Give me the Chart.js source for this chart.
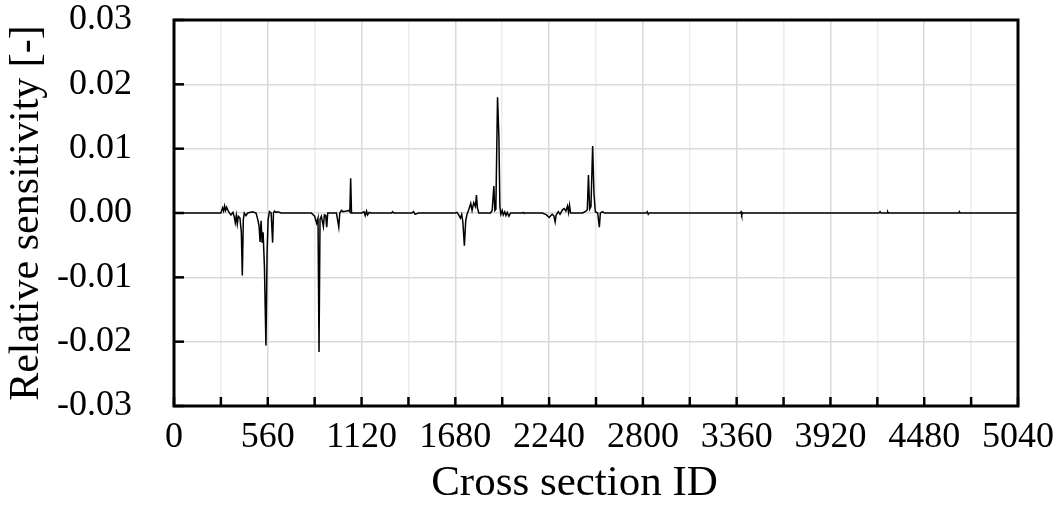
<!DOCTYPE html>
<html lang="en">
<head>
  <meta charset="UTF-8">
  <title>Relative sensitivity</title>
  <script src="https://cdn.jsdelivr.net/npm/chart.js"></script>
  <style>
    body {
      margin: 0;
      background: #fff;
    }
    .wrap {
      width: 1058px;
      height: 510px;
    }
  </style>
</head>
<body>
  <div class="wrap"><canvas id="chart"></canvas></div>

  <script>
    // cross section IDs and relative sensitivity
    const sectionIds = [
      0, 280, 290, 296, 302, 308, 314, 326, 340, 352, 360, 366, 372, 378, 384, 394, 402, 408, 414, 420,
      430, 440, 470, 490, 500, 508, 514, 520, 526, 532, 540, 549, 556, 562, 570, 580, 589, 594, 600, 610,
      620, 640, 820, 840, 852, 860, 866, 872, 880, 892, 898, 906, 912, 918, 970, 984, 990, 1000, 1010, 1030,
      1045, 1050, 1055, 1060, 1120, 1135, 1142, 1150, 1156, 1165, 1175, 1300, 1305, 1312, 1420, 1430, 1440, 1450, 1460,
      1680, 1690, 1700, 1710, 1718, 1725, 1734, 1742, 1750, 1760, 1772, 1780, 1790, 1800, 1806, 1812, 1820,
      1890, 1900, 1910, 1916, 1922, 1932, 1940, 1946, 1952, 1960, 1966, 1975, 1982, 1990, 2000, 2010,
      2080, 2085, 2090, 2200, 2225, 2240, 2258, 2268, 2276, 2282, 2295, 2305, 2320, 2330, 2340, 2350, 2356, 2362, 2368,
      2440, 2460, 2468, 2475, 2482, 2490, 2500, 2508, 2516, 2530, 2540, 2546, 2560, 2570,
      2820, 2826, 2832, 2838, 3380, 3386, 3390, 3396, 4210, 4216, 4222, 4258, 4262, 4266, 4686, 4690, 4694, 5040
    ];
    const sensitivity = [
      0, 0, 0.0008, 0.0003, 0.0011, 0.0004, 0.0009, 0.0002, -0.0003, 0.0001, -0.0006, -0.0015, -0.0004, -0.0017, -0.0005, -0.0008, -0.0030, -0.0097, -0.0010, 0,
      -0.0004, 0, 0.0002, 0, -0.0010, -0.0020, -0.0045, -0.0012, -0.0046, -0.0030, -0.0083, -0.0206, -0.0060, -0.0010, 0.0002, 0, -0.0046, 0, 0.0003, 0.0001,
      0.0002, 0, 0, -0.0005, -0.0016, -0.0008, -0.0216, -0.0010, -0.0005, -0.0021, -0.0003, -0.0004, -0.0022, 0, 0, -0.0022, 0, 0.0004, 0.0002, 0.0003,
      0.0004, 0.0002, 0.0054, 0, 0, 0.0002, -0.0004, 0.0003, -0.0003, 0.0001, 0, 0, 0.0002, 0, 0, 0.0002, -0.0002, -0.0001, 0,
      0, 0.0001, -0.0003, -0.0008, -0.0002, -0.0014, -0.0051, -0.0012, -0.0002, 0.0005, 0.0015, 0.0004, 0.0016, 0.0010, 0.0028, 0.0008, 0,
      0, 0.0004, 0.0042, 0.0004, 0.0006, 0.0180, 0.0120, 0.0010, -0.0002, 0.0004, -0.0003, 0.0002, -0.0004, 0.0001, -0.0005, 0,
      0, 0.0001, 0, 0, -0.0003, -0.0007, -0.0002, -0.0004, -0.0014, -0.0003, 0.0002, -0.0002, 0.0005, 0.0007, 0.0003, 0.0011, 0.0001, 0.0012, 0,
      0, 0.0003, 0.0005, 0.0059, 0.0006, 0.0010, 0.0104, 0.0030, 0.0002, 0, -0.0022, 0, 0.0002, 0,
      0, 0.0002, -0.0002, 0, 0, 0.0002, -0.0003, 0, 0, 0.0002, 0, 0, 0.0002, 0, 0, 0.0002, 0, 0
    ];

    const FONT = "'Liberation Serif', 'Times New Roman', serif";

    // frame round the plot and inward tick marks
    const framePlugin = {
      id: 'frame',
      afterDatasetsDraw(chart) {
        const ctx = chart.ctx;
        const a = chart.chartArea;
        const xs = chart.scales.x, ys = chart.scales.y;
        ctx.save();
        ctx.strokeStyle = '#000';
        ctx.lineWidth = 2.5;
        xs.ticks.forEach(t => {
          const px = xs.getPixelForValue(t.value);
          ctx.beginPath();
          ctx.moveTo(px, a.bottom);
          ctx.lineTo(px, a.bottom - 9);
          ctx.stroke();
        });
        ys.ticks.forEach(t => {
          const py = ys.getPixelForValue(t.value);
          ctx.beginPath();
          ctx.moveTo(a.left, py);
          ctx.lineTo(a.left + 10, py);
          ctx.stroke();
        });
        ctx.lineWidth = 3;
        ctx.strokeRect(a.left, a.top, a.right - a.left, a.bottom - a.top);
        ctx.restore();
      }
    };

    new Chart(document.getElementById('chart'), {
      type: 'line',
      data: {
        datasets: [{
          data: sectionIds.map((id, i) => ({ x: id, y: sensitivity[i] })),
          borderColor: '#000',
          borderWidth: 1.5,
          pointRadius: 0,
          tension: 0,
          fill: false
        }]
      },
      options: {
        responsive: true,
        maintainAspectRatio: false,
        animation: false,
        layout: { padding: { left: 0, top: 20, right: 40, bottom: 0 } },
        plugins: { legend: { display: false }, tooltip: { enabled: false } },
        scales: {
          x: {
            type: 'linear',
            min: 0,
            max: 5040,
            afterFit: s => { s.height = 104; s.paddingLeft = 0; s.paddingRight = 0; },
            ticks: {
              stepSize: 280,
              autoSkip: false,
              maxRotation: 0,
              padding: 10,
              color: '#000',
              font: { family: FONT, size: 36 },
              callback: v => (v % 560 === 0 ? String(v) : '')
            },
            grid: {
              drawTicks: false,
              lineWidth: 1.5,
              color: c => (c.tick && c.tick.value % 560 === 0 ? '#d9d9d9' : '#ececec')
            },
            border: { display: false },
            title: {
              display: true,
              // trailing em space nudges the title left, as in the source figure
              text: 'Cross section ID\u2003',
              color: '#000',
              font: { family: FONT, size: 43 },
              padding: { top: 0, bottom: 0 }
            }
          },
          y: {
            min: -0.03,
            max: 0.03,
            afterFit: s => { s.width = 174; s.paddingTop = 0; s.paddingBottom = 0; },
            ticks: {
              stepSize: 0.01,
              padding: 42,
              color: '#000',
              font: { family: FONT, size: 36 },
              callback: v => (Math.abs(v) < 1e-9 ? '0.00' : v.toFixed(2))
            },
            grid: { drawTicks: false, lineWidth: 1.5, color: '#d9d9d9' },
            border: { display: false },
            title: {
              display: true,
              text: 'Relative sensitivity [-]',
              color: '#000',
              font: { family: FONT, size: 42 },
              padding: { top: 2, bottom: 0 }
            }
          }
        }
      },
      plugins: [framePlugin]
    });
  </script>
</body>
</html>
